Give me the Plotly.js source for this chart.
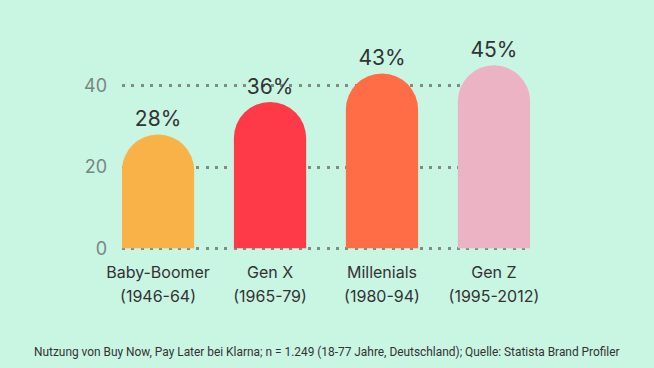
<!DOCTYPE html>
<html>
<head>
<meta charset="utf-8">
<script src="https://cdn.plot.ly/plotly-3.0.1.min.js"></script>
<style>
html,body{margin:0;padding:0;background:#c9f5e3;}
#chart{width:654px;height:368px;}
</style>
</head>
<body>
<div id="chart"></div>
<script>
const categories = ["Baby-Boomer", "Gen X", "Millenials", "Gen Z"];
const years = ["(1946-64)", "(1965-79)", "(1980-94)", "(1995-2012)"];
const values = [28, 36, 43, 45];
const labels = ["28%", "36%", "43%", "45%"];
const colors = ["#f9b248", "#fe3a48", "#fe6d45", "#ebb3c4"];
const yTicks = [0, 20, 40];
const footnote = "Nutzung von Buy Now, Pay Later bei Klarna; n = 1.249 (18-77 Jahre, Deutschland); Quelle: Statista Brand Profiler";

const xRange = [-0.322, 3.322];

const trace = {
  type: "bar",
  x: categories,
  y: values,
  text: labels,
  textposition: "outside",
  cliponaxis: false,
  textfont: {family: "Inter, sans-serif", size: 21, color: "#333333"},
  marker: {color: colors, cornerradius: "50%"},
  hoverinfo: "none"
};

const layout = {
  width: 654, height: 368,
  paper_bgcolor: "#c9f5e3", plot_bgcolor: "#c9f5e3",
  margin: {l: 122, r: 124, t: 45, b: 118},
  bargap: 0.355,
  showlegend: false,
  xaxis: {
    type: "category",
    range: xRange,
    showgrid: false, zeroline: false, showline: false,
    ticks: "", ticklabelstandoff: 11,
    tickfont: {family: "Inter, sans-serif", size: 16, color: "#333333"}
  },
  xaxis2: {
    overlaying: "x", anchor: "y", side: "bottom",
    range: xRange,
    tickmode: "array",
    tickvals: years.map((_, i) => i),
    ticktext: years,
    showgrid: false, zeroline: false, showline: false,
    ticks: "", ticklabelstandoff: 35,
    tickfont: {family: "Inter, sans-serif", size: 16, color: "#333333"}
  },
  yaxis: {
    range: [-0.4, 50],
    tickvals: yTicks,
    ticktext: yTicks.map(String),
    showgrid: true, gridcolor: "#7d8c85", gridwidth: 3, griddash: "3px,6.3px",
    zeroline: false, showline: false,
    ticks: "", ticklabelstandoff: 14,
    tickfont: {family: "Inter, sans-serif", size: 18, color: "#7b857f"}
  },
  annotations: [{
    text: footnote, showarrow: false,
    xref: "paper", yref: "paper", x: 0.5, y: 0, xanchor: "center", yanchor: "middle",
    xshift: 0.5, yshift: -102,
    font: {family: "'Liberation Sans Narrow', 'Roboto', sans-serif", size: 11.9, color: "#333333"}
  }]
};

const dummy = {type: "scatter", x: [0], y: [0], xaxis: "x2", yaxis: "y", mode: "markers",
  marker: {opacity: 0}, hoverinfo: "none", showlegend: false};

Plotly.newPlot("chart", [trace, dummy], layout, {staticPlot: true, displayModeBar: false});
</script>
</body>
</html>
